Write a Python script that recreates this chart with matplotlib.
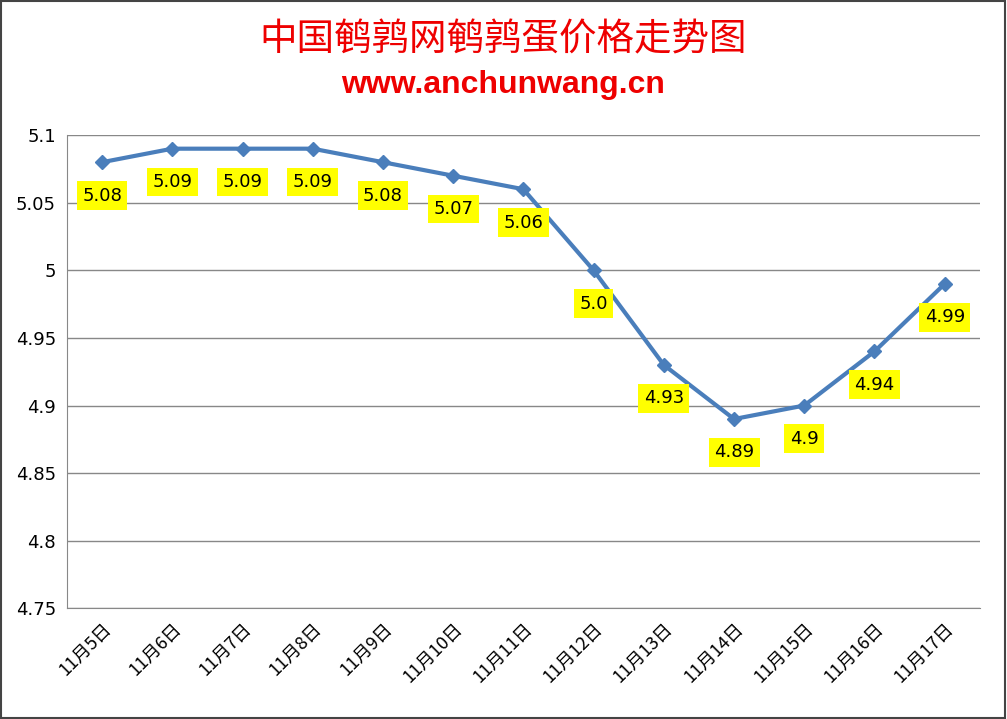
import matplotlib
matplotlib.use("Agg")
import matplotlib.pyplot as plt
from matplotlib.patches import Rectangle

plt.rcParams['font.family'] = ['Noto Sans CJK SC', 'DejaVu Sans']

dates = ["11月5日", "11月6日", "11月7日", "11月8日", "11月9日", "11月10日", "11月11日",
         "11月12日", "11月13日", "11月14日", "11月15日", "11月16日", "11月17日"]
prices = [5.08, 5.09, 5.09, 5.09, 5.08, 5.07, 5.06, 5.0, 4.93, 4.89, 4.9, 4.94, 4.99]
labels = ["5.08", "5.09", "5.09", "5.09", "5.08", "5.07", "5.06", "5.0", "4.93", "4.89",
          "4.9", "4.94", "4.99"]
yticks = [4.75, 4.8, 4.85, 4.9, 4.95, 5, 5.05, 5.1]
ytick_labels = ["4.75", "4.8", "4.85", "4.9", "4.95", "5", "5.05", "5.1"]

fig = plt.figure(figsize=(10.07, 7.19), dpi=100)
fig.patches.append(Rectangle((0.001, 0.001), 0.997, 0.997, transform=fig.transFigure,
                             fill=False, edgecolor="#444444", linewidth=1.5))
ax = fig.add_axes([0.0665, 0.154, 0.9065, 0.658])

x = list(range(len(dates)))
ax.plot(x, prices, color="#4a7ebb", linewidth=3, marker="D", markersize=7,
        markerfacecolor="#4a7ebb", markeredgecolor="#4a7ebb", zorder=3)
for xi, p, lab in zip(x, prices, labels):
    ax.annotate(lab, (xi, p), xytext=(0, -24), textcoords="offset points",
                ha="center", va="center", fontsize=13, family="DejaVu Sans",
                bbox=dict(boxstyle="square,pad=0.3", facecolor="#ffff00", edgecolor="none"),
                zorder=4)

ax.set_xlim(-0.5, len(dates) - 0.5)
ax.set_ylim(4.75, 5.1)
ax.set_yticks(yticks)
ax.set_yticklabels(ytick_labels, fontsize=13, family="DejaVu Sans")
ax.set_xticks(x)
ax.set_xticklabels(dates, rotation=45, ha="right", rotation_mode="anchor", fontsize=13)
ax.yaxis.grid(True, color="#888888", linewidth=1)
ax.set_axisbelow(True)
ax.tick_params(axis="both", length=0, pad=8)
for s in ("top", "right"):
    ax.spines[s].set_visible(False)
ax.spines["left"].set_color("#888888")
ax.spines["bottom"].set_color("#888888")

fig.text(0.5, 0.945, "中国鹌鹑网鹌鹑蛋价格走势图", color="#ee0000", fontsize=27,
         ha="center", va="center")
fig.text(0.5, 0.882, "www.anchunwang.cn", color="#ee0000", fontsize=23,
         fontweight="bold", family="Liberation Sans", ha="center", va="center")

fig.savefig("out.png", dpi=100)
